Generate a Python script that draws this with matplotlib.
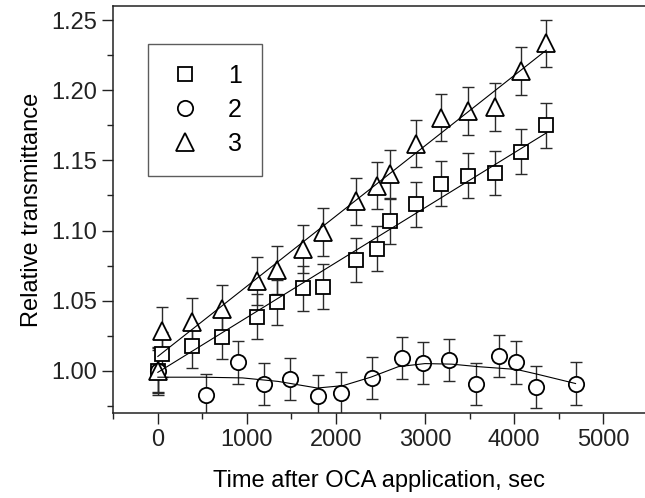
import matplotlib
matplotlib.use("Agg")
import matplotlib.pyplot as plt
from matplotlib.ticker import MultipleLocator, FormatStrFormatter
import numpy as np

plt.rcParams['font.family'] = ['Liberation Sans', 'DejaVu Sans']

# series 1 (squares) and 3 (triangles) share the time points
t13 = [0, 45, 381, 725, 1118, 1342, 1626, 1858, 2223, 2463, 2604, 2904,
       3180, 3479, 3781, 4077, 4361]
y1 = [1.000, 1.012, 1.018, 1.0245, 1.0386, 1.049, 1.059, 1.060, 1.079, 1.087,
      1.1066, 1.1186, 1.1333, 1.139, 1.141, 1.156, 1.175]
y3 = [1.000, 1.0286, 1.035, 1.044, 1.064, 1.072, 1.0866, 1.0988, 1.1207, 1.132,
      1.1405, 1.162, 1.1805, 1.185, 1.188, 1.2136, 1.2333]
# series 2 (circles)
t2 = [0, 542, 900, 1192, 1480, 1794, 2059, 2400, 2740, 2974, 3274, 3573,
      3831, 4025, 4245, 4690]
y2 = [1.000, 0.983, 1.006, 0.9905, 0.9945, 0.982, 0.9845, 0.995, 1.009,
      1.0055, 1.0076, 0.9905, 1.0105, 1.006, 0.9888, 0.991]
err1 = 0.016
err2 = 0.015
err3 = 0.017

# smooth fit curve through series 2
fit2_t = [0, 500, 950, 1350, 1790, 2080, 2390, 2700, 3000, 3300, 3600, 4030,
          4250, 4690]
fit2_y = [0.9955, 0.9955, 0.995, 0.9925, 0.9878, 0.9895, 0.9955, 1.003,
          1.0052, 1.0048, 1.003, 1.001, 0.9978, 0.991]

fig = plt.figure(figsize=(6.45, 4.98), dpi=100)
ax = fig.add_axes([0.1757, 0.1707, 0.8243, 0.8173])

ebkw = dict(fmt='none', ecolor='#2a2a2a', elinewidth=1.0, capsize=4.5,
            capthick=1.0, zorder=1)
ax.errorbar(t13, y1, yerr=err1, **ebkw)
ax.errorbar(t2, y2, yerr=err2, **ebkw)
ax.errorbar(t13, y3, yerr=err3, **ebkw)

mkw = dict(linestyle='none', markerfacecolor='white', markeredgecolor='black',
           markeredgewidth=1.3, zorder=2)
ax.plot(t13, y1, marker='s', markersize=10, label='1', **mkw)
ax.plot(t2, y2, marker='o', markersize=11, label='2', **mkw)
ax.plot(t13, y3, marker='^', markersize=13, label='3', **mkw)

# linear fits for 1 and 3
tt = np.array([0, 4361])
p1 = np.polyfit(t13, y1, 1)
p3 = np.polyfit(t13, y3, 1)
ax.plot(tt, np.polyval(p1, tt), color='black', lw=0.8, zorder=3)
ax.plot(tt, np.polyval(p3, tt), color='black', lw=0.8, zorder=3)
ax.plot(fit2_t, fit2_y, color='black', lw=0.8, zorder=3)

ax.set_xlim(-500, 5470)
ax.set_ylim(0.97, 1.26)
ax.xaxis.set_major_locator(MultipleLocator(1000))
ax.xaxis.set_minor_locator(MultipleLocator(500))
ax.yaxis.set_major_locator(MultipleLocator(0.05))
ax.yaxis.set_minor_locator(MultipleLocator(0.025))
ax.yaxis.set_major_formatter(FormatStrFormatter('%.2f'))
ax.tick_params(which='major', direction='out', length=8, width=1.0,
               labelsize=17, colors='#222222')
ax.tick_params(which='minor', direction='out', length=4, width=1.0,
               colors='#222222')
ax.spines['right'].set_visible(False)
for s in ['left', 'top', 'bottom']:
    ax.spines[s].set_linewidth(1.1)
    ax.spines[s].set_color('#222222')

ax.set_xlabel('Time after OCA application, sec', fontsize=17, labelpad=14)
ax.set_ylabel('Relative transmittance', fontsize=17, labelpad=6)

leg = ax.legend(loc='upper left', bbox_to_anchor=(0.0647, 0.906),
                borderaxespad=0, fontsize=18, frameon=True, fancybox=False,
                edgecolor='#333333', borderpad=0.8, labelspacing=0.4,
                handlelength=1.4, handletextpad=1.0)
leg.get_frame().set_linewidth(1.0)

fig.savefig('out.png', dpi=100)
